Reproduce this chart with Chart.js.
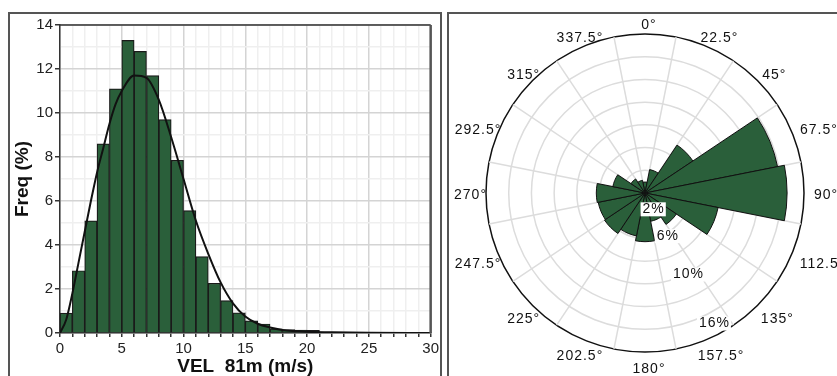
<!DOCTYPE html>
<html>
<head>
<meta charset="utf-8">
<script src="https://cdn.jsdelivr.net/npm/chart.js@4.4.0/dist/chart.umd.min.js"></script>
<style>
  html, body { margin: 0; padding: 0; background: #fff; width: 837px; height: 376px; overflow: hidden; }
  canvas { position: absolute; }
  #hist { left: 0; top: 0; }
  #rose { left: 448px; top: 13px; }
  .panel { position: absolute; border: 2px solid #555; box-sizing: border-box; z-index: 2; }
  #histBox { left: 8px; top: 12px; width: 434px; height: 400px; }
  #roseBox { left: 447px; top: 12px; width: 420px; height: 400px; }
</style>
</head>
<body>
<canvas id="hist" width="442" height="390"></canvas>
<canvas id="rose" width="389" height="363"></canvas>
<div class="panel" id="histBox"></div>
<div class="panel" id="roseBox"></div>
<script>
// --- histogram data (1 m/s bins) ---
const binStart = [0, 1, 2, 3, 4, 5, 6, 7, 8, 9, 10, 11, 12, 13, 14, 15, 16, 17, 18, 19, 20, 21];
const binFreq = [0.9, 2.83, 5.1, 8.6, 11.1, 13.3, 12.8, 11.7, 9.7, 7.85, 5.56, 3.47, 2.26, 1.47, 0.92, 0.55, 0.41, 0.19, 0.15, 0.13, 0.12, 0.03];

// fitted curve
const fitSpeed = [0, 0.5, 1, 1.5, 2, 2.5, 3, 3.5, 4, 4.5, 5, 6, 7, 8, 9, 10, 11, 12, 13, 14, 15, 16, 17, 18, 19, 20, 22, 25, 30];
const fitFreq = [0, 0.6, 1.8, 3.2, 4.6, 6.0, 7.3, 8.4, 9.5, 10.4, 11.0, 11.7, 11.6, 10.6, 8.9, 7.0, 5.1, 3.6, 2.3, 1.35, 0.75, 0.42, 0.25, 0.14, 0.09, 0.06, 0.03, 0.01, 0];

// --- wind rose data ---
const dirLabels = ['0°', '22.5°', '45°', '67.5°', '90°', '112.5°', '135°', '157.5°',
                   '180°', '202.5°', '225°', '247.5°', '270°', '292.5°', '315°', '337.5°'];
const dirFreq = [1.1, 2.4, 5.8, 13.6, 14.3, 7.5, 3.8, 2.9, 4.9, 4.4, 4.9, 4.8, 4.9, 3.3, 1.7, 1.3];
const ringLabels = [2, 6, 10, 16];

const green = '#2a5f3a';
const font = '"Liberation Sans", Arial, sans-serif';

// frame lines on top and right of the plot area
const plotFrame = {
  id: 'plotFrame',
  afterDraw(chart) {
    const { ctx, chartArea: a } = chart;
    ctx.save();
    ctx.strokeStyle = '#333';
    ctx.lineWidth = 1.5;
    ctx.beginPath(); ctx.moveTo(a.left, a.top); ctx.lineTo(a.right, a.top); ctx.stroke();
    ctx.strokeStyle = '#555';
    ctx.lineWidth = 2.5;
    ctx.beginPath(); ctx.moveTo(a.right, a.top); ctx.lineTo(a.right, a.bottom); ctx.stroke();
    ctx.restore();
  }
};

new Chart(document.getElementById('hist'), {
  type: 'bar',
  data: {
    datasets: [{
      type: 'line',
      data: fitSpeed.map((x, i) => ({ x: x, y: fitFreq[i] })),
      borderColor: '#111',
      borderWidth: 2,
      pointRadius: 0,
      cubicInterpolationMode: 'monotone',
      order: 0
    }, {
      type: 'bar',
      data: binStart.map((x, i) => ({ x: x + 0.5, y: binFreq[i] })),
      backgroundColor: green,
      borderColor: '#1a1a1a',
      borderWidth: 1.2,
      barPercentage: 1,
      categoryPercentage: 1,
      order: 1
    }]
  },
  options: {
    responsive: false,
    animation: false,
    devicePixelRatio: 1,
    layout: { padding: { top: 25, right: 8, left: 0, bottom: 0 } },
    plugins: { legend: { display: false }, tooltip: { enabled: false } },
    scales: {
      x: {
        type: 'linear', min: 0, max: 30, offset: false,
        afterFit: s => { s.height = 57; },
        ticks: {
          stepSize: 1, autoSkip: false, maxRotation: 0, padding: 3,
          color: '#222', font: { family: font, size: 15 },
          callback: v => (v % 5 === 0 ? v : '')
        },
        grid: {
          offset: false,
          color: c => (c.tick.value % 5 === 0 ? '#d4d4d4' : '#efefef'),
          lineWidth: 1.5,
          tickColor: '#333',
          tickLength: 4
        },
        border: { color: '#333', width: 1.5 },
        title: {
          display: true, text: 'VEL  81m (m/s)', color: '#111',
          font: { family: font, size: 19, weight: 'bold' },
          padding: { top: 0, bottom: 12 }
        }
      },
      y: {
        min: 0, max: 14,
        afterFit: s => { s.width = 60; },
        ticks: {
          stepSize: 1, autoSkip: false, padding: 2,
          color: '#222', font: { family: font, size: 15 },
          callback: v => (v % 2 === 0 ? v : '')
        },
        grid: {
          color: c => (c.tick.value % 2 === 0 ? '#d4d4d4' : '#efefef'),
          lineWidth: 1.5,
          tickColor: c => (c.tick.value % 2 === 0 ? '#333' : 'rgba(0,0,0,0)'),
          tickLength: 5
        },
        border: { color: '#333', width: 1.5 },
        title: {
          display: true, text: 'Freq (%)', color: '#111',
          font: { family: font, size: 19, weight: 'bold' },
          padding: { top: 11, bottom: 0 }
        }
      }
    }
  },
  plugins: [plotFrame]
});

// direction labels and ring percentages, placed through the radial scale
const roseLabels = {
  id: 'roseLabels',
  afterDraw(chart) {
    const r = chart.scales.r;
    const ctx = chart.ctx;
    ctx.save();
    ctx.font = '14px ' + font;
    ctx.letterSpacing = '1px';
    ctx.textAlign = 'left';
    ctx.textBaseline = 'middle';
    ctx.fillStyle = '#111';
    dirLabels.forEach((lab, i) => {
      const p = r.getPointPosition(i + 0.5, r.drawingArea + 6);
      const a = i * 22.5 * Math.PI / 180;
      const w = ctx.measureText(lab).width;
      const x = p.x - w * (1 - Math.sin(a)) / 2 + 4 + (Math.sin(a) < -0.1 ? 3 : 0);
      const y = p.y - 5 * Math.cos(a) + 2 + (Math.cos(a) < -0.3 ? 4 : 0);
      ctx.fillText(lab, x, y);
    });
    const idx = (152 + 11.25) / 22.5;
    ctx.textAlign = 'center';
    ringLabels.forEach(v => {
      const k = v === 6 ? 0.82 : 0.93;
      const p = r.getPointPosition(idx, r.getDistanceFromCenterForValue(v) * k);
      const txt = v + '%';
      const w = ctx.measureText(txt).width;
      ctx.fillStyle = '#fff';
      ctx.fillRect(p.x - w / 2 - 2, p.y - 7, w + 3, 14);
      ctx.fillStyle = '#111';
      ctx.fillText(txt, p.x, p.y);
    });
    ctx.restore();
  }
};

new Chart(document.getElementById('rose'), {
  type: 'polarArea',
  data: {
    labels: dirLabels,
    datasets: [{
      data: dirFreq,
      backgroundColor: green,
      borderColor: '#111',
      borderWidth: 1
    }]
  },
  options: {
    responsive: false,
    animation: false,
    devicePixelRatio: 1,
    layout: { padding: { left: 38, right: 33, top: 21, bottom: 24 } },
    plugins: { legend: { display: false }, tooltip: { enabled: false } },
    scales: {
      r: {
        min: 0, max: 16,
        startAngle: -11.25,
        ticks: { display: false, count: 8 },
        pointLabels: { display: false },
        angleLines: { display: true, color: '#dcdcdc', lineWidth: 1.5 },
        grid: {
          circular: true,
          color: c => (c.tick && c.tick.value > 15.9 ? '#111' : '#dcdcdc'),
          lineWidth: 1.5
        }
      }
    }
  },
  plugins: [roseLabels]
});
</script>
</body>
</html>
